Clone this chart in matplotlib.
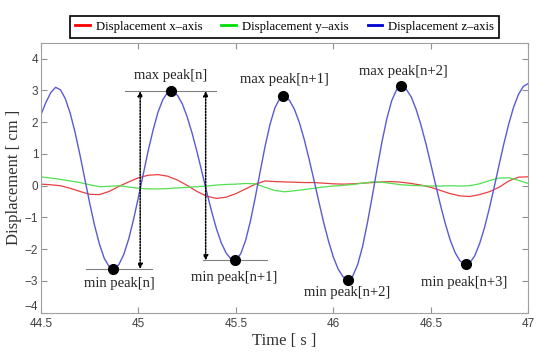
import numpy as np
import matplotlib.pyplot as plt

plt.rcParams['font.family'] = ['Liberation Serif', 'DejaVu Serif']

t_z = np.round(np.arange(44.5, 47.0001, 0.025), 3)
disp_z = [2.24, 2.62, 2.93, 3.10, 3.02, 2.74, 2.28, 1.68, 0.97, 0.21,
          -0.55, -1.25, -1.84, -2.29, -2.55, -2.62, -2.48, -2.16, -1.68, -1.06,
          -0.36, 0.37, 1.10, 1.75, 2.31, 2.71, 2.94, 2.97, 2.85, 2.58,
          2.17, 1.66, 1.08, 0.45, -0.19, -0.80, -1.35, -1.80, -2.12, -2.31,
          -2.34, -2.14, -1.72, -1.10, -0.35, 0.46, 1.25, 1.93, 2.45, 2.75,
          2.81, 2.69, 2.41, 2.00, 1.47, 0.85, 0.19, -0.49, -1.15, -1.74,
          -2.25, -2.63, -2.87, -2.96, -2.84, -2.48, -1.91, -1.16, -0.32, 0.56,
          1.40, 2.13, 2.69, 3.03, 3.13, 3.03, 2.79, 2.40, 1.90, 1.32,
          0.68, 0.02, -0.62, -1.21, -1.72, -2.11, -2.37, -2.48, -2.43, -2.21,
          -1.83, -1.33, -0.72, -0.05, 0.65, 1.33, 1.95, 2.48, 2.88, 3.13,
          3.22]

# x- and y-axis displacement, sampled every 0.05 s
t_xy = np.round(np.arange(44.5, 47.0001, 0.05), 3)
disp_x = [0.05, 0.03, 0.00, -0.08, -0.18, -0.27, -0.28, -0.18, -0.02, 0.12,
          0.25, 0.33, 0.35, 0.30, 0.18, 0.01, -0.18, -0.33, -0.40, -0.36,
          -0.25, -0.10, 0.05, 0.15, 0.13, 0.12, 0.11, 0.10, 0.10, 0.08,
          0.06, 0.05, 0.06, 0.08, 0.10, 0.12, 0.13, 0.11, 0.07, 0.02,
          -0.05, -0.15, -0.25, -0.32, -0.34, -0.28, -0.19, -0.05, 0.15, 0.27,
          0.28]
disp_y = [0.28, 0.24, 0.20, 0.15, 0.10, 0.03, -0.03, -0.02, 0.00, -0.04,
          -0.08, -0.10, -0.10, -0.09, -0.07, -0.05, -0.03, -0.01, 0.02, 0.04,
          0.05, 0.07, 0.06, -0.05, -0.15, -0.19, -0.16, -0.12, -0.08, -0.04,
          -0.01, 0.01, 0.04, 0.08, 0.12, 0.11, 0.07, 0.03, 0.01, 0.00,
          -0.01, -0.01, 0.00, -0.01, 0.00, 0.06, 0.16, 0.24, 0.25, 0.17,
          0.07]

# marked peaks
peak_t = [44.87, 45.167, 45.493, 45.743, 46.076, 46.347, 46.68]
peak_v = [-2.62, 2.98, -2.35, 2.82, -2.96, 3.13, -2.48]
peak_labels = ['min peak[n]', 'max peak[n]', 'min peak[n+1]', 'max peak[n+1]',
               'min peak[n+2]', 'max peak[n+2]', 'min peak[n+3]']
label_pos = [(44.90, -3.07), (45.167, 3.47), (45.49, -2.90), (45.75, 3.35),
             (46.07, -3.37), (46.36, 3.59), (46.67, -3.06)]

# reference levels and the two peak-to-peak arrows
hlines = [(-2.62, 44.73, 45.07), (2.98, 44.93, 45.40), (-2.35, 45.33, 45.66)]
arrows = [(45.009, -2.62, 2.98), (45.345, 2.98, -2.35)]

fig = plt.figure(figsize=(5.5, 3.57), dpi=100)
ax = fig.add_axes([0.0745, 0.124, 0.886, 0.756])

ax.plot(t_xy, disp_x, color='#e84040', lw=0.9, label='Displacement x\u2013axis')
ax.plot(t_xy, disp_y, color='#50e050', lw=0.9, label='Displacement y\u2013axis')
ax.plot(t_z, disp_z, color='#5a5ad6', lw=1.0, label='Displacement z\u2013axis')

for y, x0, x1 in hlines:
    ax.plot([x0, x1], [y, y], color='#808080', lw=0.8)

for x, y0, y1 in arrows:
    ax.annotate('', xy=(x, y1), xytext=(x, y0),
                arrowprops=dict(arrowstyle='<|-|>', ls=(0, (1, 1)), lw=1.1,
                                color='black', mutation_scale=7,
                                shrinkA=0, shrinkB=0))

ax.plot(peak_t, peak_v, 'o', color='black', ms=7, zorder=5)
for lab, (x, y) in zip(peak_labels, label_pos):
    ax.text(x, y, lab, ha='center', va='center', fontsize=10.5, color='#222222')

ax.set_xlim(44.5, 47)
ax.set_ylim(-4, 4.5)
ax.set_xticks([44.5, 45, 45.5, 46, 46.5, 47])
ax.set_xticklabels(['44.5', '45', '45.5', '46', '46.5', '47'])
ax.set_yticks(range(-4, 5))
ax.tick_params(direction='in', length=4, top=True, right=True, color='#909090',
               labelsize=8.5, labelcolor='#404040', pad=2)
ax.tick_params(axis='x', pad=4)
for lab in ax.get_xticklabels() + ax.get_yticklabels():
    lab.set_family('Liberation Sans')
# the bottom y label sits a little higher, as in the original
ax.get_yticklabels()[0].set_va('bottom')
for sp in ax.spines.values():
    sp.set_color('#a0a0a0')

ax.set_xlabel('Time [ s ]', fontsize=12, color='#333333', labelpad=2)
ax.set_ylabel('Displacement [ cm ]', fontsize=12, color='#333333', labelpad=2)

leg = ax.legend(loc='lower center', bbox_to_anchor=(0.5, 1.018), ncol=3,
                borderaxespad=0, fontsize=9.2, frameon=True, fancybox=False,
                framealpha=1, edgecolor='black', handlelength=1.15,
                handletextpad=0.45, columnspacing=1.5, borderpad=0.4)
leg.get_frame().set_linewidth(1.2)
for h, c in zip(leg.get_lines(), ['red', '#00e000', '#0000d0']):
    h.set_color(c)
    h.set_linewidth(2)

fig.savefig('out.png', dpi=100)
